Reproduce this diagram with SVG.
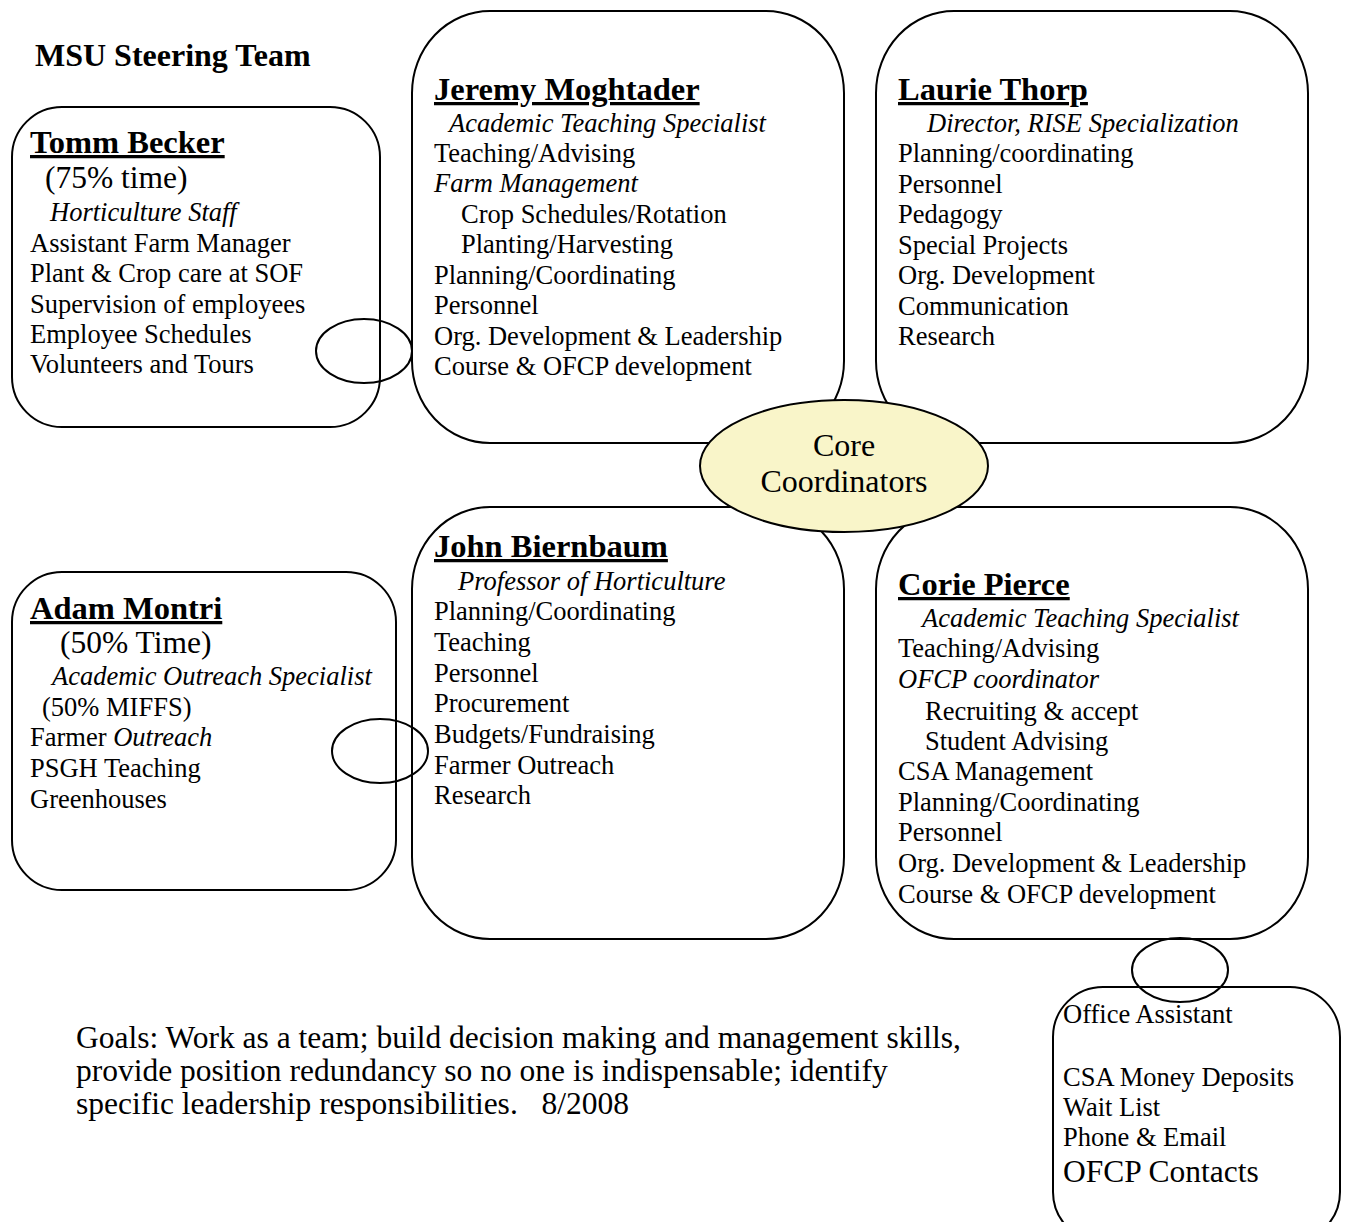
<svg xmlns="http://www.w3.org/2000/svg" width="1346" height="1222" viewBox="0 0 1346 1222">
<style>
text{font-family:"Liberation Serif","Times New Roman",serif;fill:#000;font-size:26.5px}
.box{fill:#fff;stroke:#000;stroke-width:2}
.ring{fill:none;stroke:#000;stroke-width:2}
.name{font-weight:bold;font-size:32.5px;text-decoration:underline}
.it{font-style:italic}
.big{font-size:31.5px}
.goal{font-size:31.5px}
</style>
<rect width="1346" height="1222" fill="#fff"/>
<text x="35" y="66" style="font-weight:bold;font-size:32px">MSU Steering Team</text>

<g id="tomm">
<rect class="box" x="12" y="107" width="368" height="320" rx="50" ry="50"/>
<text class="name" x="30" y="153">Tomm Becker</text>
<text class="big" x="45" y="188">(75% time)</text>
<text class="it" x="50" y="221">Horticulture Staff</text>
<text x="30" y="252">Assistant Farm Manager</text>
<text x="30" y="282">Plant &amp; Crop care at SOF</text>
<text x="30" y="313">Supervision of employees</text>
<text x="30" y="343">Employee Schedules</text>
<text x="30" y="373">Volunteers and Tours</text>
</g>

<g id="jeremy">
<rect class="box" x="412" y="11" width="432" height="432" rx="78" ry="82"/>
<text class="name" x="434" y="100">Jeremy Moghtader</text>
<text class="it" x="449" y="132">Academic Teaching Specialist</text>
<text x="434" y="162">Teaching/Advising</text>
<text class="it" x="434" y="192">Farm Management</text>
<text x="461" y="223">Crop Schedules/Rotation</text>
<text x="461" y="253">Planting/Harvesting</text>
<text x="434" y="284">Planning/Coordinating</text>
<text x="434" y="314">Personnel</text>
<text x="434" y="345">Org. Development &amp; Leadership</text>
<text x="434" y="375">Course &amp; OFCP development</text>
</g>

<g id="laurie">
<rect class="box" x="876" y="11" width="432" height="432" rx="78" ry="82"/>
<text class="name" x="898" y="100">Laurie Thorp</text>
<text class="it" x="927" y="132">Director, RISE Specialization</text>
<text x="898" y="162">Planning/coordinating</text>
<text x="898" y="193">Personnel</text>
<text x="898" y="223">Pedagogy</text>
<text x="898" y="254">Special Projects</text>
<text x="898" y="284">Org. Development</text>
<text x="898" y="315">Communication</text>
<text x="898" y="345">Research</text>
</g>

<g id="adam">
<rect class="box" x="12" y="572" width="384" height="318" rx="50" ry="50"/>
<text class="name" x="30" y="619">Adam Montri</text>
<text class="big" x="60" y="653">(50% Time)</text>
<text class="it" x="52" y="685">Academic Outreach Specialist</text>
<text x="42" y="716">(50% MIFFS)</text>
<text x="30" y="746">Farmer <tspan class="it">Outreach</tspan></text>
<text x="30" y="777">PSGH Teaching</text>
<text x="30" y="808">Greenhouses</text>
</g>

<g id="john">
<rect class="box" x="412" y="507" width="432" height="432" rx="78" ry="82"/>
<text class="name" x="434" y="557">John Biernbaum</text>
<text class="it" x="458" y="590">Professor of Horticulture</text>
<text x="434" y="620">Planning/Coordinating</text>
<text x="434" y="651">Teaching</text>
<text x="434" y="682">Personnel</text>
<text x="434" y="712">Procurement</text>
<text x="434" y="743">Budgets/Fundraising</text>
<text x="434" y="774">Farmer Outreach</text>
<text x="434" y="804">Research</text>
</g>

<g id="corie">
<rect class="box" x="876" y="507" width="432" height="432" rx="78" ry="82"/>
<text class="name" x="898" y="595">Corie Pierce</text>
<text class="it" x="922" y="627">Academic Teaching Specialist</text>
<text x="898" y="657">Teaching/Advising</text>
<text class="it" x="898" y="688">OFCP coordinator</text>
<text x="925" y="720">Recruiting &amp; accept</text>
<text x="925" y="750">Student Advising</text>
<text x="898" y="780">CSA Management</text>
<text x="898" y="811">Planning/Coordinating</text>
<text x="898" y="841">Personnel</text>
<text x="898" y="872">Org. Development &amp; Leadership</text>
<text x="898" y="903">Course &amp; OFCP development</text>
</g>

<g id="core">
<ellipse cx="844" cy="466" rx="144" ry="66" fill="#F9F5C9" stroke="#000" stroke-width="2"/>
<text x="844" y="456" text-anchor="middle" style="font-size:32px">Core</text>
<text x="844" y="492" text-anchor="middle" style="font-size:32px">Coordinators</text>
</g>

<g id="office">
<rect class="box" x="1053" y="987" width="287" height="255" rx="50" ry="50"/>
<text x="1063" y="1023">Office Assistant</text>
<text x="1063" y="1086">CSA Money Deposits</text>
<text x="1063" y="1116">Wait List</text>
<text x="1063" y="1146">Phone &amp; Email</text>
<text x="1063" y="1182" class="big">OFCP Contacts</text>
</g>

<g id="connectors">
<ellipse class="ring" cx="364" cy="351" rx="48" ry="32"/>
<ellipse class="ring" cx="380" cy="751" rx="48" ry="32"/>
<ellipse class="ring" cx="1180" cy="970" rx="48" ry="32"/>
</g>

<g id="goals">
<text class="goal" x="76" y="1048">Goals: Work as a team; build decision making and management skills,</text>
<text class="goal" x="76" y="1081">provide position redundancy so no one is indispensable; identify</text>
<text class="goal" x="76" y="1114" xml:space="preserve">specific leadership responsibilities.   8/2008</text>
</g>
</svg>
